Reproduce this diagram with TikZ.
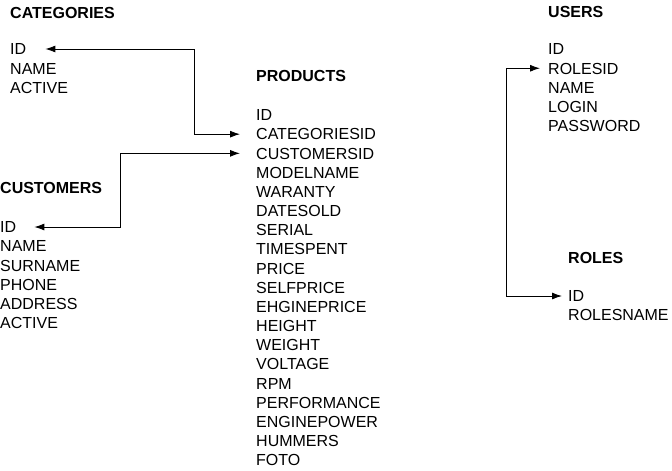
\documentclass[tikz,border=0pt]{standalone}
\usepackage{fontspec}
\setmainfont{Liberation Sans}
\usetikzlibrary{arrows.meta}

\begin{document}
\begin{tikzpicture}[x=1pt,y=-1pt,
  title/.style={font=\bfseries\fontsize{16}{19}\selectfont,anchor=west,inner sep=0pt,text height=11.5pt,text depth=0pt},
  field/.style={font=\fontsize{16}{19}\selectfont,anchor=west,inner sep=0pt,text height=11.5pt,text depth=0pt},
  rel/.style={line width=0.9pt,{Latex[length=10pt,width=7pt]}-{Latex[length=10pt,width=7pt]}},
]
  \useasboundingbox (0,0) rectangle (672,471);

  % tables
  \node[title] (categories) at (10,13) {CATEGORIES};
  \foreach \f [count=\i from 0] in {ID,NAME,ACTIVE}
    \node[field] (cat-\f) at (10,49+19.3*\i) {\f};

  \node[title] (products) at (256,76) {PRODUCTS};
  \foreach \f [count=\i from 0] in {ID,CATEGORIESID,CUSTOMERSID,MODELNAME,WARANTY,DATESOLD,SERIAL,TIMESPENT,PRICE,SELFPRICE,EHGINEPRICE,HEIGHT,WEIGHT,VOLTAGE,RPM,PERFORMANCE,ENGINEPOWER,HUMMERS,FOTO}
    \node[field] (prod-\f) at (256,115+19.17*\i) {\f};

  \node[title] (customers) at (0,188) {CUSTOMERS};
  \foreach \f [count=\i from 0] in {ID,NAME,SURNAME,PHONE,ADDRESS,ACTIVE}
    \node[field] (cust-\f) at (0,227+19.2*\i) {\f};

  \node[title] (users) at (548,12) {USERS};
  \foreach \f [count=\i from 0] in {ID,ROLESID,NAME,LOGIN,PASSWORD}
    \node[field] (users-\f) at (548,49+19.25*\i) {\f};

  \node[title] (roles) at (568,258) {ROLES};
  \foreach \f [count=\i from 0] in {ID,ROLESNAME}
    \node[field] (roles-\f) at (568,296+19.2*\i) {\f};

  % links
  \coordinate (catbend) at (194,0);
  \coordinate (custbend) at (120,0);
  \coordinate (rolebend) at (506,0);
  \draw[rel,shorten <=19pt,shorten >=16pt] (cat-ID.east) -- (cat-ID.east -| catbend) |- (prod-CATEGORIESID.west);
  \draw[rel,shorten <=18pt,shorten >=16pt] (cust-ID.east) -- (cust-ID.east -| custbend) |- (prod-CUSTOMERSID.west);
  \draw[rel,shorten <=8pt,shorten >=6pt] (users-ROLESID.west) -- (users-ROLESID.west -| rolebend) |- (roles-ID.west);
\end{tikzpicture}
\end{document}
